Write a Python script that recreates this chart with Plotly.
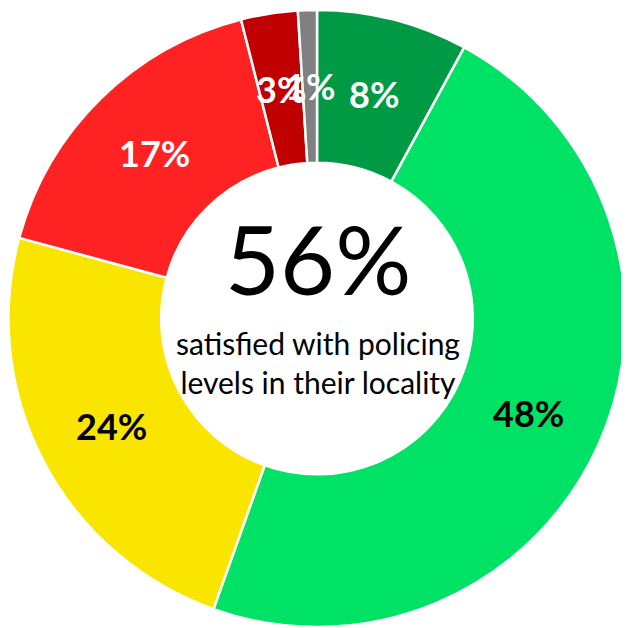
import numpy as np
import plotly.graph_objects as go

categories = ["Very satisfied", "Fairly satisfied", "Neither", "Fairly dissatisfied", "Very dissatisfied", "Don't know"]
values = [8, 48, 24, 17, 3, 1]
colors = ["#009A44", "#00E266", "#F9E500", "#FF2222", "#C00000", "#808080"]
text_colors = ["white", "black", "black", "white", "white", "white"]
headline = "56%"
subtitle = "satisfied with policing<br>levels in their locality"

# page body has an 8px margin, so the figure is drawn 8px right/down
W, H = 621, 620
cx, cy, R = 309.0, 310.5, 308.5   # pie centre and radius in figure pixels
HOLE = 0.505

fig = go.Figure(go.Pie(
    labels=categories,
    values=values,
    hole=HOLE,
    sort=False,
    direction="clockwise",
    rotation=0,
    marker=dict(colors=colors, line=dict(color="white", width=2.5)),
    textinfo="none",
    hoverinfo="label+value",
    domain=dict(x=[(cx - R) / W, (cx + R) / W], y=[1 - (cy + R) / H, 1 - (cy - R) / H]),
    showlegend=False,
))

# slice labels, placed at the middle of each ring segment (horizontal text)
vals = np.array(values, dtype=float)
frac = vals / vals.sum()
mid = np.cumsum(frac) - frac / 2
ang = mid * 2 * np.pi
rmid = R * (1 + HOLE) / 2
for v, a, c in zip(values, ang, text_colors):
    px = cx + rmid * np.sin(a)
    py = cy - rmid * np.cos(a)
    fig.add_annotation(x=px / W, y=1 - py / H, xref="paper", yref="paper",
                       xanchor="center", yanchor="middle",
                       text=f"<b>{v}%</b>", showarrow=False,
                       font=dict(family="Lato", size=36, color=c))

fig.add_annotation(x=310 / W, y=1 - 250 / H, xref="paper", yref="paper",
                   xanchor="center", yanchor="middle",
                   text=headline, showarrow=False,
                   font=dict(family="Lato", size=95, color="black"))
fig.add_annotation(x=310 / W, y=1 - 354 / H, xref="paper", yref="paper",
                   xanchor="center", yanchor="middle",
                   text=subtitle, showarrow=False,
                   font=dict(family="Lato", size=30, color="black"))

fig.update_layout(
    width=W, height=H,
    margin=dict(l=0, r=0, t=0, b=0),
    paper_bgcolor="white", plot_bgcolor="white",
)
fig.write_html("out.html")
